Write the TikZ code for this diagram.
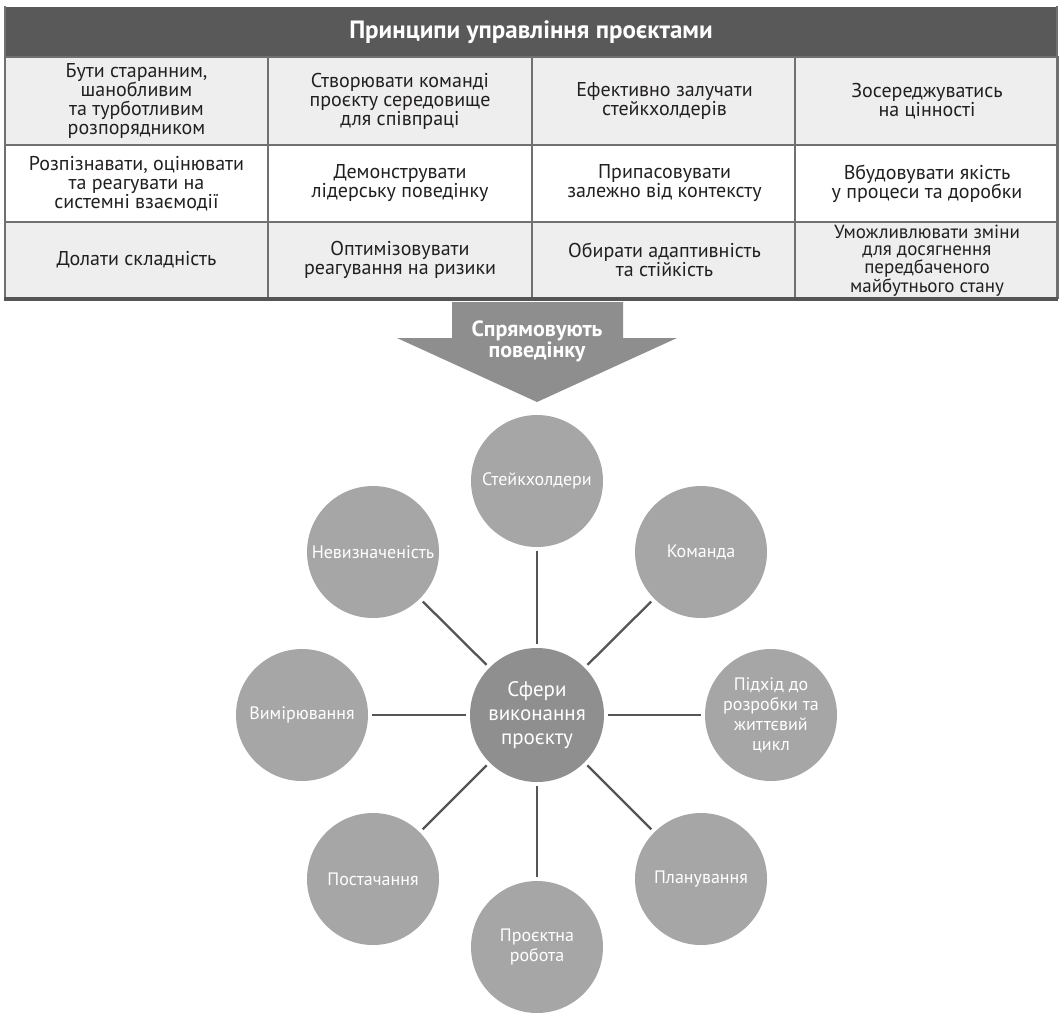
\documentclass[tikz,border=0pt]{standalone}
\usepackage{fontspec}
\setmainfont{PT Sans}
\usetikzlibrary{calc}
\definecolor{hdr}{HTML}{595959}
\definecolor{rowg}{HTML}{EEEEEE}
\definecolor{tline}{HTML}{707070}
\definecolor{tbord}{HTML}{555555}
\definecolor{txt}{HTML}{231F20}
\definecolor{arrg}{HTML}{8E8E8E}
\definecolor{circg}{HTML}{A6A6A6}
\definecolor{cent}{HTML}{8F8F8F}
\definecolor{conng}{HTML}{555555}
\begin{document}
\begin{tikzpicture}[x=1pt,y=-1pt,
  cellbox/.style={draw=tline, line width=1.2pt, minimum width=264pt, inner sep=0pt, align=center, text=txt, font=\fontsize{20}{19}\selectfont},
  rowone/.style={cellbox, fill=rowg, minimum height=88pt},
  rowtwo/.style={cellbox, fill=white, minimum height=77pt},
  rowthree/.style={cellbox, fill=rowg, minimum height=76pt},
  area/.style={circle, fill=circg, minimum size=132pt, inner sep=0pt, align=center, text=white, font=\fontsize{18}{20}\selectfont},
  hub/.style={circle, fill=cent, minimum size=134pt, inner sep=0pt, align=center, text=white, font=\fontsize{21}{24}\selectfont},
  conn/.style={draw=conng, line width=2.3pt, shorten <=4pt, shorten >=4pt}
]
\useasboundingbox (0,0) rectangle (1059,1012);

% header
\node[fill=hdr, minimum width=1052pt, minimum height=50pt, inner sep=0pt, text=white, font=\bfseries\fontsize{25}{26}\selectfont] (head) at (531,32) {Принципи управління проєктами};

% row 1
\node[rowone] (c11) at (136.5,101) {Бути старанним,\\шанобливим\\та турботливим\\розпорядником};
\node[rowone] (c12) at (400,101) {Створювати команді\\проєкту середовище\\для співпраці};
\node[rowone] (c13) at (664.5,101) {Ефективно залучати\\стейкхолдерів};
\node[rowone] (c14) at (927,101) {Зосереджуватись\\на цінності};
% row 2
\node[rowtwo] (c21) at (136.5,183.5) {Розпізнавати, оцінювати\\та реагувати на\\системні взаємодії};
\node[rowtwo] (c22) at (400,183.5) {Демонструвати\\лідерську поведінку};
\node[rowtwo] (c23) at (664.5,183.5) {Припасовувати\\залежно від контексту};
\node[rowtwo] (c24) at (927,183.5) {Вбудовувати якість\\у процеси та доробки};
% row 3
\node[rowthree] (c31) at (136.5,260) {Долати складність};
\node[rowthree] (c32) at (400,260) {Оптимізовувати\\реагування на ризики};
\node[rowthree] (c33) at (664.5,260) {Обирати адаптивність\\та стійкість};
\node[rowthree, font=\fontsize{19}{17.5}\selectfont] (c34) at (927,260.5) {Уможливлювати зміни\\для досягнення\\передбаченого\\майбутнього стану};

% outer frame
\draw[draw=tline, line width=2.5pt] (5,6) -- (5,299);
\draw[draw=tline, line width=2.5pt] (1057,6) -- (1057,299);
\draw[draw=tbord, line width=3.5pt] (4,299) -- (1058,299);

% arrow
\draw[fill=arrg, draw=none] (452,302) -- (623,302) -- (623,338) -- (677,338) -- (537,402) -- (397,338) -- (452,338) -- cycle;
\node[text=white, align=center, font=\bfseries\fontsize{22}{21}\selectfont] (arrtxt) at (537,341) {Спрямовують\\поведінку};

% circles
\node[hub] (hubn) at (537,715) {Сфери\\виконання\\проєкту};
\node[area] (stake) at (537,481) {Стейкхолдери};
\node[area] (team) at (701,552) {Команда};
\node[area] (appr) at (771,715) {Підхід до\\розробки та\\життєвий\\цикл};
\node[area] (plan) at (701,879) {Планування};
\node[area] (work) at (537,947) {Проєктна\\робота};
\node[area] (deliv) at (373,879) {Постачання};
\node[area] (meas) at (302,715) {Вимірювання};
\node[area] (unc) at (373,552) {Невизначеність};

\foreach \n in {stake,team,appr,plan,work,deliv,meas,unc}
  \draw[conn] (hubn) -- (\n);
\end{tikzpicture}
\end{document}
